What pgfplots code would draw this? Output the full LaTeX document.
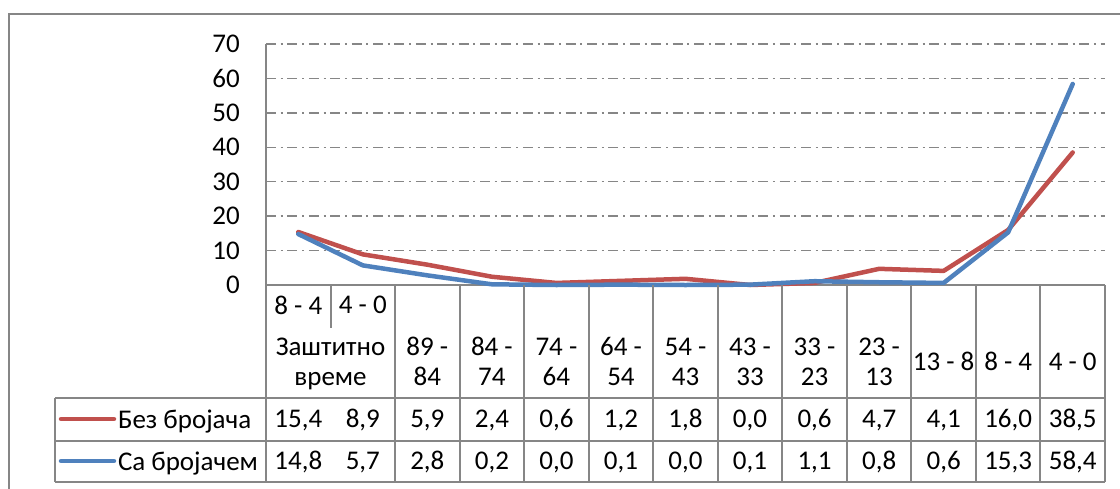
\documentclass[border=0pt]{standalone}
\usepackage{pgfplots}
\pgfplotsset{compat=1.18}
\usepackage{pgfplotstable}
\usepackage{fontspec}
\setmainfont{Carlito}

\definecolor{bezred}{RGB}{192,80,77}
\definecolor{sablue}{RGB}{79,129,189}
\definecolor{lngray}{RGB}{134,134,134}

% x: category index, bez = без бројача, sa = са бројачем
\pgfplotstableread{
x  bez   sa
0  15.4  14.8
1  8.9   5.7
2  5.9   2.8
3  2.4   0.2
4  0.6   0.0
5  1.2   0.1
6  1.8   0.0
7  0.0   0.1
8  0.6   1.1
9  4.7   0.8
10 4.1   0.6
11 16.0  15.3
12 38.5  58.4
}\data

\newcommand{\tfont}{\fontsize{27}{30}\selectfont}
\def\colw{64.538}

\begin{document}
\begin{tikzpicture}
\useasboundingbox (0,0) rectangle (1120pt,-488pt);
% outer chart frame (cut off at right and bottom)
\draw[lngray, line width=2pt] (9pt,-600pt) -- (9pt,-14pt) -- (1300pt,-14pt);

\begin{axis}[
  at={(266pt,-285pt)}, anchor=south west,
  scale only axis, width=839pt, height=241pt,
  xmin=-0.5, xmax=12.5, ymin=0, ymax=70,
  clip=false,
  axis x line*=bottom, axis y line*=left,
  axis line style={draw=lngray, line width=2pt},
  major tick length=0pt,
  ytick={0,10,20,30,40,50,60,70},
  ymajorgrids,
  major grid style={lngray, line width=1.5pt, dash pattern=on 10pt off 4.7pt on 2pt off 4.7pt},
  tick label style={font=\tfont, text=black},
  /pgf/number format/assume math mode=true,
  yticklabel style={anchor=east, inner sep=0pt, xshift=-26pt},
  xtick={0.5,2,3,4,5,6,7,8,9,10,11,12},
  xticklabels={{Заштитно\\\smash{време}},{89 -\\84},{84 -\\74},{74 -\\64},{64 -\\54},{54 -\\43},{43 -\\33},{33 -\\23},{23 -\\13},{13 - 8},{8 - 4},{4 - 0}},
  xticklabel style={anchor=center, align=center, inner sep=0pt, yshift=-76.5pt},
  extra x ticks={0,1},
  extra x tick labels={{8 - 4},{4 - 0}},
  extra x tick style={xticklabel style={yshift=56.5pt}},
]
\addplot[bezred, line width=4.5pt, line cap=round, line join=round] table[x=x, y=bez]{\data};
\addplot[sablue, line width=4.5pt, line cap=round, line join=round] table[x=x, y=sa]{\data};

% data table rows
\addplot[draw=none, point meta=explicit, nodes near coords={\pgfmathprintnumber[fixed,fixed zerofill,precision=1,use comma,assume math mode=true]{\pgfplotspointmeta}},
  every node near coord/.style={anchor=base, inner sep=0pt, font=\tfont, text=black}]
  table[x=x, y expr=-41.5, meta=bez]{\data};
\addplot[draw=none, point meta=explicit, nodes near coords={\pgfmathprintnumber[fixed,fixed zerofill,precision=1,use comma,assume math mode=true]{\pgfplotspointmeta}},
  every node near coord/.style={anchor=base, inner sep=0pt, font=\tfont, text=black}]
  table[x=x, y expr=-53.7, meta=sa]{\data};
\end{axis}

\begin{scope}[x=1pt, y=-1pt, lngray, line width=2pt]
  % column lines
  \foreach \k in {0,2,3,...,13} {
    \draw (266+\k*\colw, 285) -- (266+\k*\colw, 482);
  }
  \draw (266+\colw, 285) -- (266+\colw, 328);
  % row lines
  \draw (55,398) -- (1105.0,398);
  \draw (55,441) -- (1105.0,441);
  \draw (55,482) -- (1105.0,482);
  \draw (55,398) -- (55,482);
  % legend keys
  \draw[bezred, line width=4.5pt, line cap=round] (61,419) -- (114,419);
  \draw[sablue, line width=4.5pt, line cap=round] (61,461) -- (114,461);
  \node[anchor=base west, inner sep=0pt, font=\tfont, text=black] at (117,428) {Без бројача};
  \node[anchor=base west, inner sep=0pt, font=\tfont, text=black] at (117,470) {Са бројачем};
\end{scope}
\end{tikzpicture}
\end{document}
